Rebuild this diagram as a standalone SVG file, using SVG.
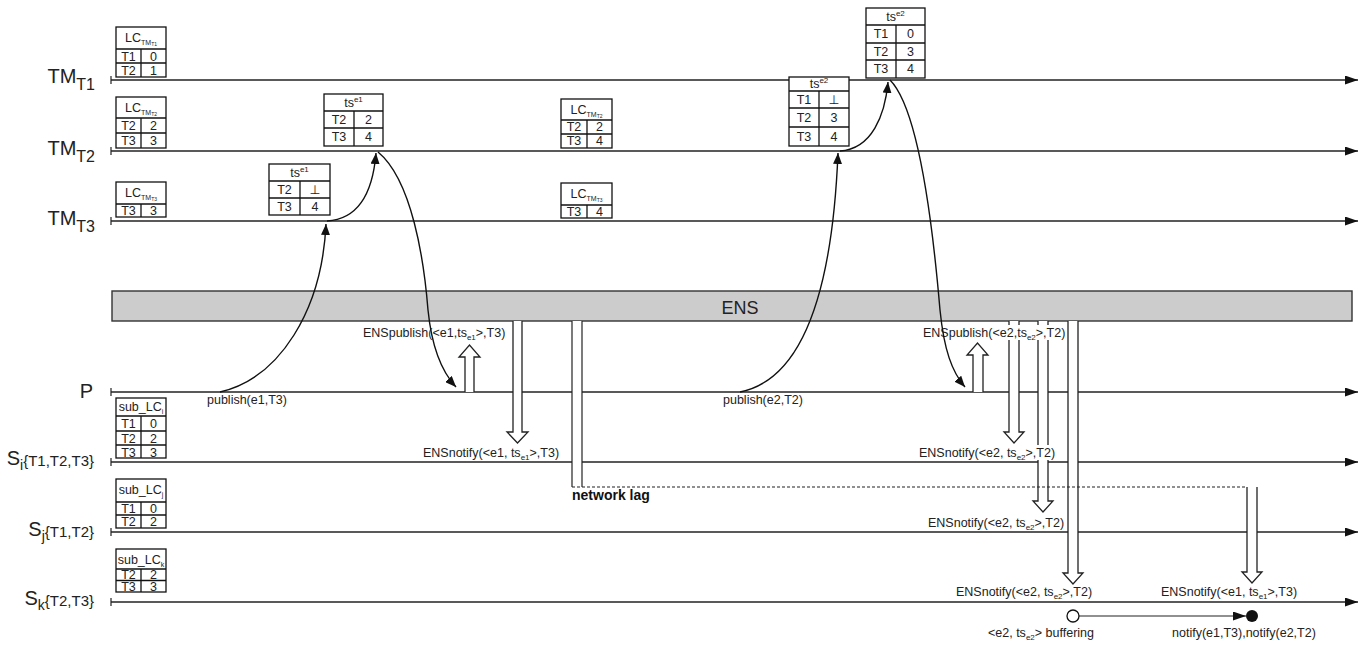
<svg xmlns="http://www.w3.org/2000/svg" width="1364" height="646" viewBox="0 0 1364 646">
<defs>
<marker id="ta" markerWidth="13" markerHeight="9" refX="13" refY="4.5" orient="auto" markerUnits="userSpaceOnUse"><path d="M0,0 L13,4.5 L0,9 z" fill="#111"/></marker>
<marker id="ca" markerWidth="11" markerHeight="9" refX="11" refY="4.5" orient="auto" markerUnits="userSpaceOnUse"><path d="M0,0 L11,4.5 L0,9 z" fill="#111"/></marker>
</defs>
<style>
.tl{stroke:#222;stroke-width:1.4;fill:none}
.tk{stroke:#222;stroke-width:1.2}
.tb{fill:#fff;stroke:#111;stroke-width:1.3}
.tbl{stroke:#111;stroke-width:1.3}
.ct{font-family:"Liberation Sans",Arial,"DejaVu Sans",sans-serif;font-size:12.5px;fill:#222;text-anchor:middle}
.hd{font-family:"Liberation Sans",Arial,sans-serif;font-size:12.5px;fill:#222;text-anchor:middle}
.lb{font-family:"Liberation Sans",Arial,sans-serif;font-size:20px;fill:#222;text-anchor:end}
.sm{font-family:"Liberation Sans",Arial,sans-serif;font-size:12.5px;fill:#222}
.bg{fill:#fff}
.fa{fill:#fff;stroke:#222;stroke-width:1.3}
.cv{fill:none;stroke:#111;stroke-width:1.4}
</style>

<g id="timelines">
<line class="tl" x1="111" y1="80" x2="1358" y2="80" marker-end="url(#ta)"/>
<line class="tk" x1="111" y1="76" x2="111" y2="84"/>
<line class="tl" x1="111" y1="151" x2="1358" y2="151" marker-end="url(#ta)"/>
<line class="tk" x1="111" y1="147" x2="111" y2="155"/>
<line class="tl" x1="111" y1="221" x2="1358" y2="221" marker-end="url(#ta)"/>
<line class="tk" x1="111" y1="217" x2="111" y2="225"/>
<line class="tl" x1="111" y1="392" x2="1358" y2="392" marker-end="url(#ta)"/>
<line class="tk" x1="111" y1="388" x2="111" y2="396"/>
<line class="tl" x1="111" y1="462" x2="1358" y2="462" marker-end="url(#ta)"/>
<line class="tk" x1="111" y1="458" x2="111" y2="466"/>
<line class="tl" x1="111" y1="532" x2="1358" y2="532" marker-end="url(#ta)"/>
<line class="tk" x1="111" y1="528" x2="111" y2="536"/>
<line class="tl" x1="111" y1="602" x2="1358" y2="602" marker-end="url(#ta)"/>
<line class="tk" x1="111" y1="598" x2="111" y2="606"/>
</g>

<g id="labels">
<text class="lb" x="95" y="83">TM<tspan font-size="16" dy="7">T1</tspan></text>
<text class="lb" x="95" y="155">TM<tspan font-size="16" dy="7">T2</tspan></text>
<text class="lb" x="95" y="225">TM<tspan font-size="16" dy="7">T3</tspan></text>
<text class="lb" x="93" y="398">P</text>
<text class="lb" x="94" y="465">S<tspan font-size="14" dy="5">i</tspan><tspan font-size="15" dy="-4">{T1,T2,T3}</tspan></text>
<text class="lb" x="94" y="536">S<tspan font-size="14" dy="5">j</tspan><tspan font-size="15" dy="-4">{T1,T2}</tspan></text>
<text class="lb" x="94" y="605">S<tspan font-size="14" dy="5">k</tspan><tspan font-size="15" dy="-4">{T2,T3}</tspan></text>
</g>

<g id="ens">
<rect x="112" y="291" width="1240" height="30" fill="#cccccc" stroke="#333" stroke-width="1.4"/>
<text x="740" y="314" font-family="Liberation Sans, Arial, sans-serif" font-size="18" fill="#222" text-anchor="middle">ENS</text>
</g>

<g id="lc-tm-t1">
<rect class="tb" x="116" y="27" width="50" height="50"/>
<line class="tbl" x1="116" y1="49" x2="166" y2="49"/><line class="tbl" x1="116" y1="63" x2="166" y2="63"/><line class="tbl" x1="141" y1="49" x2="141" y2="77"/>
<text class="hd" x="141" y="42">LC<tspan font-size="7" dy="3">TM</tspan><tspan font-size="5" dy="1">T1</tspan></text>
<text class="ct" x="128.5" y="60.5">T1</text><text class="ct" x="153.5" y="60.5">0</text>
<text class="ct" x="128.5" y="74.5">T2</text><text class="ct" x="153.5" y="74.5">1</text>
</g>
<g id="lc-tm-t2">
<rect class="tb" x="116" y="97" width="50" height="51"/>
<line class="tbl" x1="116" y1="118" x2="166" y2="118"/><line class="tbl" x1="116" y1="133" x2="166" y2="133"/><line class="tbl" x1="141" y1="118" x2="141" y2="148"/>
<text class="hd" x="141" y="112">LC<tspan font-size="7" dy="3">TM</tspan><tspan font-size="5" dy="1">T2</tspan></text>
<text class="ct" x="128.5" y="130">T2</text><text class="ct" x="153.5" y="130">2</text>
<text class="ct" x="128.5" y="145">T3</text><text class="ct" x="153.5" y="145">3</text>
</g>
<g id="lc-tm-t3">
<rect class="tb" x="116" y="182" width="50" height="35"/>
<line class="tbl" x1="116" y1="204" x2="166" y2="204"/><line class="tbl" x1="141" y1="204" x2="141" y2="217"/>
<text class="hd" x="141" y="197">LC<tspan font-size="7" dy="3">TM</tspan><tspan font-size="5" dy="1">T3</tspan></text>
<text class="ct" x="128.5" y="215">T3</text><text class="ct" x="153.5" y="215">3</text>
</g>

<g id="ts-e1-t3">
<rect class="tb" x="269" y="164" width="61" height="51"/>
<line class="tbl" x1="269" y1="181" x2="330" y2="181"/><line class="tbl" x1="269" y1="198" x2="330" y2="198"/><line class="tbl" x1="300" y1="181" x2="300" y2="215"/>
<text class="hd" x="299.5" y="177">ts<tspan font-size="8" dy="-5">e1</tspan></text>
<text class="ct" x="284.5" y="194">T2</text><text class="ct" x="315" y="194">⊥</text>
<text class="ct" x="284.5" y="211">T3</text><text class="ct" x="315" y="211">4</text>
</g>
<g id="ts-e1-t2">
<rect class="tb" x="324" y="94" width="59" height="52"/>
<line class="tbl" x1="324" y1="111" x2="383" y2="111"/><line class="tbl" x1="324" y1="128" x2="383" y2="128"/><line class="tbl" x1="354" y1="111" x2="354" y2="146"/>
<text class="hd" x="353.5" y="107">ts<tspan font-size="8" dy="-5">e1</tspan></text>
<text class="ct" x="339" y="124">T2</text><text class="ct" x="368.5" y="124">2</text>
<text class="ct" x="339" y="141">T3</text><text class="ct" x="368.5" y="141">4</text>
</g>
<g id="lc-tm-t2-b">
<rect class="tb" x="561" y="99" width="51" height="49"/>
<line class="tbl" x1="561" y1="120" x2="612" y2="120"/><line class="tbl" x1="561" y1="134" x2="612" y2="134"/><line class="tbl" x1="587" y1="120" x2="587" y2="148"/>
<text class="hd" x="586.5" y="114">LC<tspan font-size="7" dy="3">TM</tspan><tspan font-size="5" dy="1">T2</tspan></text>
<text class="ct" x="574" y="131">T2</text><text class="ct" x="599.5" y="131">2</text>
<text class="ct" x="574" y="145">T3</text><text class="ct" x="599.5" y="145">4</text>
</g>
<g id="lc-tm-t3-b">
<rect class="tb" x="561" y="183" width="51" height="35"/>
<line class="tbl" x1="561" y1="205" x2="612" y2="205"/><line class="tbl" x1="587" y1="205" x2="587" y2="218"/>
<text class="hd" x="586.5" y="198">LC<tspan font-size="7" dy="3">TM</tspan><tspan font-size="5" dy="1">T3</tspan></text>
<text class="ct" x="574" y="216">T3</text><text class="ct" x="599.5" y="216">4</text>
</g>
<g id="ts-e2-t2">
<rect class="tb" x="789" y="77" width="60" height="69"/>
<line class="tbl" x1="789" y1="91" x2="849" y2="91"/><line class="tbl" x1="789" y1="108" x2="849" y2="108"/><line class="tbl" x1="789" y1="127" x2="849" y2="127"/><line class="tbl" x1="819" y1="91" x2="819" y2="146"/>
<text class="hd" x="819" y="88">ts<tspan font-size="8" dy="-5">e2</tspan></text>
<text class="ct" x="804" y="104">T1</text><text class="ct" x="834" y="104">⊥</text>
<text class="ct" x="804" y="122">T2</text><text class="ct" x="834" y="122">3</text>
<text class="ct" x="804" y="141">T3</text><text class="ct" x="834" y="141">4</text>
</g>
<g id="ts-e2-t1">
<rect class="tb" x="866" y="8" width="59" height="70"/>
<line class="tbl" x1="866" y1="25" x2="925" y2="25"/><line class="tbl" x1="866" y1="43" x2="925" y2="43"/><line class="tbl" x1="866" y1="60" x2="925" y2="60"/><line class="tbl" x1="896" y1="25" x2="896" y2="78"/>
<text class="hd" x="895.5" y="21">ts<tspan font-size="8" dy="-5">e2</tspan></text>
<text class="ct" x="881" y="38">T1</text><text class="ct" x="910.5" y="38">0</text>
<text class="ct" x="881" y="56">T2</text><text class="ct" x="910.5" y="56">3</text>
<text class="ct" x="881" y="73">T3</text><text class="ct" x="910.5" y="73">4</text>
</g>

<g id="sub-lc-i">
<rect class="tb" x="116" y="398" width="50" height="60"/>
<line class="tbl" x1="116" y1="416" x2="166" y2="416"/><line class="tbl" x1="116" y1="431" x2="166" y2="431"/><line class="tbl" x1="116" y1="445" x2="166" y2="445"/><line class="tbl" x1="141" y1="416" x2="141" y2="458"/>
<text class="hd" x="141" y="411">sub_LC<tspan font-size="7" dy="3">i</tspan></text>
<text class="ct" x="128.5" y="428">T1</text><text class="ct" x="153.5" y="428">0</text>
<text class="ct" x="128.5" y="442.5">T2</text><text class="ct" x="153.5" y="442.5">2</text>
<text class="ct" x="128.5" y="456.5">T3</text><text class="ct" x="153.5" y="456.5">3</text>
</g>
<g id="sub-lc-j">
<rect class="tb" x="116" y="479" width="50" height="49"/>
<line class="tbl" x1="116" y1="502" x2="166" y2="502"/><line class="tbl" x1="116" y1="515" x2="166" y2="515"/><line class="tbl" x1="141" y1="502" x2="141" y2="528"/>
<text class="hd" x="141" y="494">sub_LC<tspan font-size="7" dy="3">j</tspan></text>
<text class="ct" x="128.5" y="513">T1</text><text class="ct" x="153.5" y="513">0</text>
<text class="ct" x="128.5" y="526">T2</text><text class="ct" x="153.5" y="526">2</text>
</g>
<g id="sub-lc-k">
<rect class="tb" x="116" y="549" width="50" height="43"/>
<line class="tbl" x1="116" y1="569" x2="166" y2="569"/><line class="tbl" x1="116" y1="580.5" x2="166" y2="580.5"/><line class="tbl" x1="141" y1="569" x2="141" y2="592"/>
<text class="hd" x="141" y="564">sub_LC<tspan font-size="7" dy="3">k</tspan></text>
<text class="ct" x="128.5" y="579" font-size="11">T2</text><text class="ct" x="153.5" y="579" font-size="11">2</text>
<text class="ct" x="128.5" y="590.5" font-size="11">T3</text><text class="ct" x="153.5" y="590.5" font-size="11">3</text>
</g>

<g id="connectors">
<path class="fa" d="M465,392 V357 H459 L469.5,345 L480,357 H474 V392"/>
<path class="fa" d="M513,321 V432 H507 L517.5,443 L528,432 H522 V321"/>
<path class="fa" d="M973,392 V355 H967 L977.5,343 L988,355 H983 V392"/>
<path class="fa" d="M1009,321 V432 H1004 L1014,443 L1024,432 H1019 V321"/>
<path class="fa" d="M1038,321 V501 H1033 L1043,512 L1053,501 H1048 V321"/>
<path class="fa" d="M1068,321 V573 H1063 L1073,584 L1083,573 H1078 V321"/>
<rect x="572" y="321" width="10" height="166" fill="#fff"/>
<line class="tk" x1="572" y1="321" x2="572" y2="487"/>
<line class="tk" x1="582" y1="321" x2="582" y2="487"/>
<line x1="572" y1="487" x2="1247" y2="487" stroke="#222" stroke-width="1.2" stroke-dasharray="3,2"/>
<path class="fa" d="M1247,487 V572 H1242 L1252,583 L1262,572 H1257 V487"/>
<line class="tk" x1="1079" y1="616" x2="1246" y2="616" marker-end="url(#ta)"/>
<circle cx="1073" cy="616" r="6" fill="#fff" stroke="#111" stroke-width="1.3"/>
<circle cx="1252" cy="616" r="6" fill="#111"/>
</g>

<g id="msg-labels">
<rect class="bg" x="362" y="325" width="144" height="15"/>
<text class="sm" x="363" y="337">ENSpublish(&lt;e1,ts<tspan font-size="8" dy="3">e1</tspan><tspan dy="-3">&gt;,T3)</tspan></text>
<rect class="bg" x="422" y="445" width="139" height="15"/>
<text class="sm" x="423" y="457">ENSnotify(&lt;e1, ts<tspan font-size="8" dy="3">e1</tspan><tspan dy="-3">&gt;,T3)</tspan></text>
<rect class="bg" x="922" y="325" width="145" height="15"/>
<text class="sm" x="923" y="337">ENSpublish(&lt;e2,ts<tspan font-size="8" dy="3">e2</tspan><tspan dy="-3">&gt;,T2)</tspan></text>
<rect class="bg" x="918" y="445" width="139" height="15"/>
<text class="sm" x="919" y="457">ENSnotify(&lt;e2, ts<tspan font-size="8" dy="3">e2</tspan><tspan dy="-3">&gt;,T2)</tspan></text>
<rect class="bg" x="927" y="515" width="137" height="15"/>
<text class="sm" x="928" y="527">ENSnotify(&lt;e2, ts<tspan font-size="8" dy="3">e2</tspan><tspan dy="-3">&gt;,T2)</tspan></text>
<rect class="bg" x="955" y="585" width="140" height="15"/>
<text class="sm" x="956" y="596">ENSnotify(&lt;e2, ts<tspan font-size="8" dy="3">e2</tspan><tspan dy="-3">&gt;,T2)</tspan></text>
<rect class="bg" x="1160" y="585" width="139" height="15"/>
<text class="sm" x="1161" y="596">ENSnotify(&lt;e1, ts<tspan font-size="8" dy="3">e1</tspan><tspan dy="-3">&gt;,T3)</tspan></text>
<text class="sm" x="207" y="404">publish(e1,T3)</text>
<text class="sm" x="723" y="404">publish(e2,T2)</text>
<text class="sm" x="988" y="637">&lt;e2, ts<tspan font-size="8" dy="3">e2</tspan><tspan dy="-3">&gt; buffering</tspan></text>
<text class="sm" x="1172" y="637">notify(e1,T3),notify(e2,T2)</text>
<text x="572" y="500" font-family="Liberation Sans, Arial, sans-serif" font-size="14" font-weight="bold" fill="#111">network lag</text>
</g>

<g id="curves">
<path class="cv" d="M220,392 C280,378 322,310 326,224" marker-end="url(#ca)"/>
<path class="cv" d="M327,221 C360,219 373,190 376,153" marker-end="url(#ca)"/>
<path class="cv" d="M378,152 C412,180 424,260 428,310 C432,350 442,372 456,387" marker-end="url(#ca)"/>
<path class="cv" d="M740,392 C800,380 832,300 838,153" marker-end="url(#ca)"/>
<path class="cv" d="M840,151 C872,149 885,115 888,82" marker-end="url(#ca)"/>
<path class="cv" d="M890,80 C920,110 934,240 940,310 C944,350 952,372 965,387" marker-end="url(#ca)"/>
</g>
</svg>
